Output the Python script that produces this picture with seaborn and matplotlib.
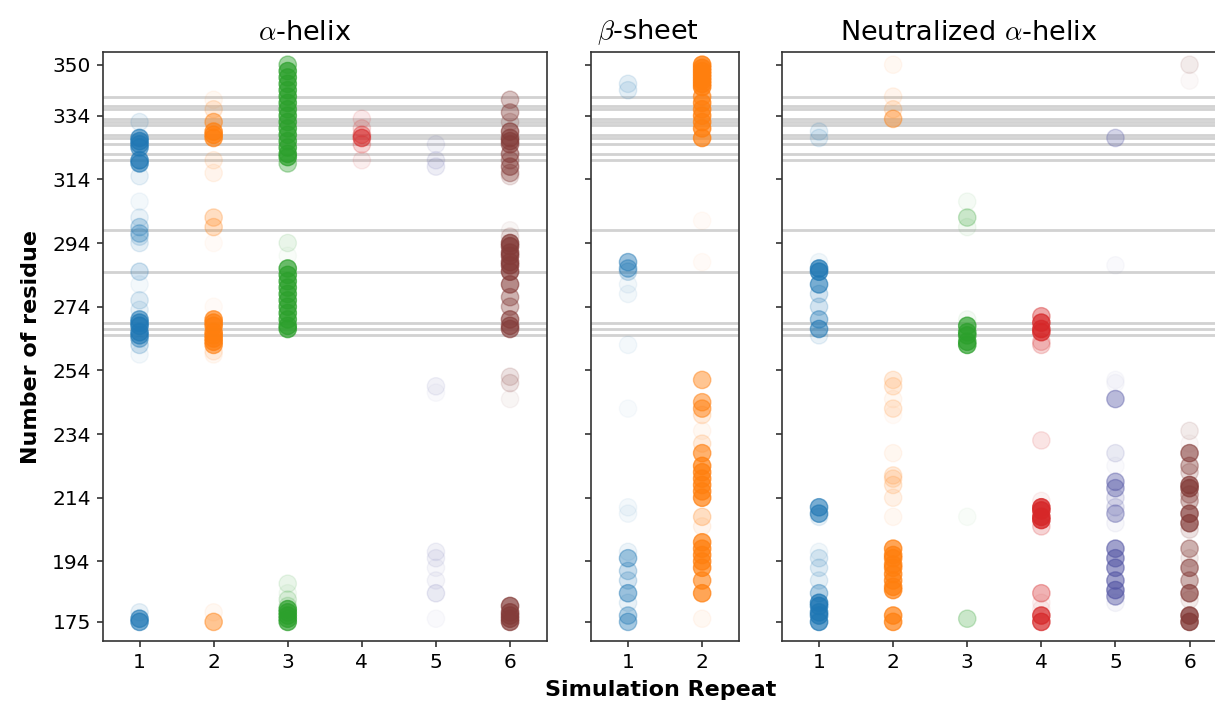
import matplotlib
matplotlib.use("Agg")
import matplotlib.pyplot as plt
import numpy as np
import pandas as pd
import seaborn as sns

# ---------------- data ----------------
palette = ["#1f77b4", "#ff7f0e", "#2ca02c", "#d62728", "#5254a3", "#843c39"]
panel_titles = [r"$\alpha$-helix", r"$\beta$-sheet", r"Neutralized $\alpha$-helix"]
panel_repeats = [6, 2, 6]
y_ticks = [175, 194, 214, 234, 254, 274, 294, 314, 334, 350]
ref_residues = [340, 337, 336, 333, 332, 331, 328, 327, 325, 322, 320,
                298, 285, 269, 267, 265]

# alpha-helix
helix_1_res = [332, 327, 326, 325, 324, 320, 319, 315, 307, 302, 299, 297, 296, 294,
               285, 281, 276, 273, 270, 269, 268, 266, 265, 264, 262, 259, 178, 176, 175]
helix_1_alpha = [0.1, 0.6, 0.65, 0.6, 0.55, 0.65, 0.6, 0.1, 0.05, 0.1, 0.25, 0.3, 0.15, 0.12,
                 0.2, 0.05, 0.15, 0.1, 0.55, 0.65, 0.7, 0.65, 0.6, 0.4, 0.2, 0.05, 0.1, 0.6, 0.6]
helix_2_res = [339, 336, 332, 329, 328, 327, 320, 316, 302, 299, 294, 274, 270, 269, 268,
               266, 265, 264, 263, 262, 260, 259, 178, 175]
helix_2_alpha = [0.05, 0.15, 0.45, 0.65, 0.7, 0.65, 0.1, 0.08, 0.25, 0.25, 0.03, 0.03, 0.65, 0.7,
                 0.7, 0.7, 0.7, 0.7, 0.7, 0.6, 0.1, 0.05, 0.05, 0.45]
helix_3_res = [350, 348, 346, 344, 342, 340, 338, 336, 334, 332, 330, 328, 326, 324, 322, 321,
               319, 294, 290, 286, 284, 282, 280, 278, 276, 274, 272, 270, 268, 267,
               187, 184, 182, 180, 179, 178, 177, 176, 175]
helix_3_alpha = [0.45, 0.7, 0.7, 0.7, 0.7, 0.7, 0.7, 0.7, 0.7, 0.7, 0.7, 0.7, 0.7, 0.7, 0.7, 0.7,
                 0.35, 0.1, 0.03, 0.7, 0.7, 0.7, 0.7, 0.7, 0.7, 0.7, 0.7, 0.7, 0.7, 0.7,
                 0.1, 0.05, 0.15, 0.15, 0.7, 0.7, 0.7, 0.7, 0.7]
helix_4_res = [333, 330, 328, 327, 325, 320]
helix_4_alpha = [0.1, 0.15, 0.35, 0.55, 0.2, 0.08]
helix_5_res = [325, 320, 318, 249, 247, 197, 195, 192, 188, 184, 176]
helix_5_alpha = [0.08, 0.1, 0.1, 0.08, 0.03, 0.08, 0.08, 0.05, 0.06, 0.12, 0.03]
helix_6_res = [339, 335, 332, 329, 327, 326, 325, 322, 320, 318, 316, 315, 298, 296, 294, 293,
               291, 290, 288, 287, 285, 281, 277, 274, 270, 268, 267, 252, 250, 245,
               180, 178, 177, 176, 175]
helix_6_alpha = [0.3, 0.4, 0.2, 0.6, 0.6, 0.6, 0.55, 0.5, 0.35, 0.5, 0.35, 0.15, 0.05, 0.15, 0.7,
                 0.7, 0.7, 0.7, 0.7, 0.7, 0.7, 0.6, 0.4, 0.35, 0.6, 0.6, 0.6, 0.15, 0.15, 0.05,
                 0.7, 0.7, 0.7, 0.7, 0.7]

# beta-sheet
sheet_1_res = [344, 342, 288, 286, 285, 281, 278, 262, 242, 211, 209, 197, 195, 191, 188,
               184, 181, 177, 175]
sheet_1_alpha = [0.12, 0.12, 0.45, 0.4, 0.2, 0.06, 0.06, 0.05, 0.03, 0.05, 0.05, 0.08, 0.4,
                 0.25, 0.2, 0.45, 0.1, 0.35, 0.4]
sheet_2_res = [350, 349, 348, 347, 346, 345, 344, 343, 340, 338, 336, 334, 332, 330, 327,
               301, 288, 251, 244, 242, 240, 235, 231, 228, 224, 222, 220, 218, 216, 214,
               208, 205, 200, 198, 196, 194, 192, 188, 184, 176]
sheet_2_alpha = [0.8, 0.8, 0.8, 0.8, 0.8, 0.8, 0.8, 0.8, 0.6, 0.7, 0.7, 0.7, 0.7, 0.7, 0.7,
                 0.03, 0.03, 0.45, 0.5, 0.5, 0.15, 0.05, 0.15, 0.6, 0.7, 0.7, 0.7, 0.7, 0.7,
                 0.7, 0.25, 0.08, 0.7, 0.7, 0.7, 0.7, 0.7, 0.6, 0.7, 0.05]

# neutralized alpha-helix
neutral_1_res = [329, 327, 288, 286, 285, 281, 278, 274, 270, 267, 265, 211, 209, 208, 197,
                 195, 192, 188, 184, 181, 180, 178, 177, 175]
neutral_1_alpha = [0.12, 0.12, 0.06, 0.7, 0.7, 0.6, 0.2, 0.2, 0.4, 0.55, 0.1, 0.6, 0.6, 0.1,
                   0.06, 0.15, 0.15, 0.12, 0.35, 0.7, 0.7, 0.7, 0.7, 0.7]
neutral_2_res = [350, 340, 336, 333, 251, 249, 245, 242, 240, 228, 221, 220, 218, 214, 208,
                 198, 196, 195, 193, 192, 190, 188, 186, 185, 177, 175]
neutral_2_alpha = [0.05, 0.08, 0.15, 0.4, 0.15, 0.15, 0.05, 0.15, 0.03, 0.06, 0.15, 0.15, 0.15,
                   0.1, 0.05, 0.7, 0.7, 0.7, 0.7, 0.7, 0.7, 0.7, 0.7, 0.7, 0.7, 0.7]
neutral_3_res = [307, 302, 299, 270, 268, 266, 265, 263, 262, 208, 176]
neutral_3_alpha = [0.05, 0.25, 0.06, 0.05, 0.7, 0.7, 0.7, 0.7, 0.7, 0.03, 0.25]
neutral_4_res = [271, 269, 267, 266, 263, 262, 232, 213, 211, 210, 208, 207, 205, 184, 181,
                 179, 177, 175]
neutral_4_alpha = [0.4, 0.7, 0.7, 0.7, 0.2, 0.2, 0.12, 0.06, 0.8, 0.8, 0.8, 0.8, 0.2, 0.35,
                   0.06, 0.06, 0.7, 0.7]
neutral_5_res = [327, 287, 251, 250, 245, 228, 224, 219, 217, 214, 211, 209, 206, 198, 195,
                 192, 188, 185, 183, 181]
neutral_5_alpha = [0.25, 0.03, 0.03, 0.03, 0.4, 0.12, 0.03, 0.4, 0.4, 0.15, 0.15, 0.35, 0.05,
                   0.55, 0.55, 0.55, 0.55, 0.6, 0.45, 0.05]
neutral_6_res = [350, 345, 235, 231, 228, 224, 222, 218, 217, 215, 213, 209, 206, 204, 198,
                 195, 192, 188, 184, 182, 177, 175]
neutral_6_alpha = [0.1, 0.03, 0.1, 0.03, 0.6, 0.4, 0.2, 0.7, 0.7, 0.35, 0.35, 0.7, 0.7, 0.15,
                   0.4, 0.1, 0.55, 0.4, 0.65, 0.1, 0.8, 0.8]

panels = [
    [(helix_1_res, helix_1_alpha), (helix_2_res, helix_2_alpha), (helix_3_res, helix_3_alpha),
     (helix_4_res, helix_4_alpha), (helix_5_res, helix_5_alpha), (helix_6_res, helix_6_alpha)],
    [(sheet_1_res, sheet_1_alpha), (sheet_2_res, sheet_2_alpha)],
    [(neutral_1_res, neutral_1_alpha), (neutral_2_res, neutral_2_alpha),
     (neutral_3_res, neutral_3_alpha), (neutral_4_res, neutral_4_alpha),
     (neutral_5_res, neutral_5_alpha), (neutral_6_res, neutral_6_alpha)],
]

rows = []
for p, groups in enumerate(panels):
    for k, (res, al) in enumerate(groups):
        for r, a in zip(res, al):
            rows.append({"panel": p, "repeat": k + 1, "residue": r, "alpha": a})
df = pd.DataFrame(rows)

# ---------------- style ----------------
sns.set_theme(style="ticks")
plt.rcParams['font.family'] = ['DejaVu Sans']
plt.rcParams['mathtext.fontset'] = 'cm'
plt.rcParams['axes.edgecolor'] = '#333333'
plt.rcParams['axes.linewidth'] = 1.2
plt.rcParams['text.color'] = 'black'
plt.rcParams['axes.labelcolor'] = 'black'
plt.rcParams['xtick.labelcolor'] = 'black'
plt.rcParams['ytick.labelcolor'] = 'black'

W, H = 1215, 702
fig = plt.figure(figsize=(W / 100, H / 100), dpi=100)

bottom_px, top_px = 641, 52
unit = 74.1
lefts = [102.5, 591.0, 782.0]
title_x = [0.455, 0.385, 0.42]
axes = []
for p in range(3):
    w = unit * panel_repeats[p]
    ax = fig.add_axes([lefts[p] / W, 1 - bottom_px / H, w / W, (bottom_px - top_px) / H])
    axes.append(ax)

for p, ax in enumerate(axes):
    sub = df[df["panel"] == p]
    for r in ref_residues:
        ax.axhline(r, color='#d2d2d2', lw=2.0, zorder=0.5)
    for k in range(1, panel_repeats[p] + 1):
        g = sub[sub["repeat"] == k]
        col = palette[k - 1]
        sns.scatterplot(data=g, x="repeat", y="residue", color=col,
                        alpha=g["alpha"].to_numpy(), edgecolor=col,
                        s=155, linewidth=1.0, ax=ax, legend=False, zorder=1)
    ax.set_xlim(0.5, panel_repeats[p] + 0.5)
    ax.set_ylim(169, 354)
    ax.set_xticks(range(1, panel_repeats[p] + 1))
    ax.set_yticks(y_ticks)
    ax.set_xlabel("")
    ax.set_ylabel("")
    ax.tick_params(axis='both', labelsize=14.5, length=4.5, width=1.2, color='#333333',
                   labelcolor='black', pad=4)
    ax.set_title(panel_titles[p], fontsize=19.5, pad=9, x=title_x[p], color='black')
    if p > 0:
        ax.tick_params(axis='y', labelleft=False)

axes[0].set_ylabel("Number of residue", fontsize=16, fontweight='bold', labelpad=8,
                   color='black')
fig.text(661 / W, 1 - 690 / H, "Simulation Repeat", fontsize=16, fontweight='bold',
         ha='center', va='center', color='black')

fig.savefig("out.png", dpi=100)
